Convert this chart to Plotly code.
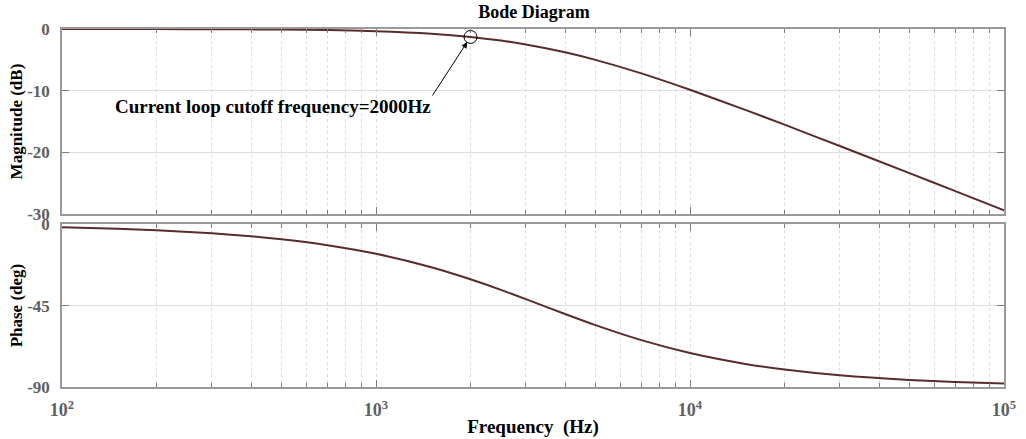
import plotly.graph_objects as go
from plotly.subplots import make_subplots
import math

# Frequency samples (Hz) and values
freq_hz = [100, 150, 200, 300, 400, 500, 700, 1000, 1500, 2000, 2500, 3000,
           4000, 5000, 7000, 10000, 15000, 20000, 30000, 50000, 70000, 100000]
magnitude_db = [-0.004, -0.009, -0.015, -0.034, -0.060, -0.093, -0.180, -0.360,
                -0.772, -1.29, -1.88, -2.50, -3.77, -5.00, -7.19, -9.85,
                -13.11, -15.51, -18.97, -23.37, -26.28, -29.38]
phase_deg = [-1.68, -2.53, -3.37, -5.04, -6.71, -8.37, -11.63, -16.39, -23.81,
             -30.47, -36.33, -41.42, -49.64, -55.78, -64.09, -71.22, -77.23,
             -80.35, -83.53, -86.11, -87.22, -88.05]

cutoff_hz = 2000
cutoff_mag = magnitude_db[freq_hz.index(cutoff_hz)]

x_tickvals = [100, 1000, 10000, 100000]
x_ticktext = ["10<sup>2</sup>", "10<sup>3</sup>", "10<sup>4</sup>", "10<sup>5</sup>"]
mag_ticks = [0, -10, -20, -30]
phase_ticks = [0, -45, -90]

LINE = "#5a2b2b"
AX = "#9a9a9a"
TICKC = "#7a7a7a"
LBL = "#606060"
GRID = "#dcdcdc"
FONT = "Liberation Serif"

fig = make_subplots(rows=2, cols=1, shared_xaxes=True)

fig.add_trace(go.Scatter(x=freq_hz, y=magnitude_db, mode="lines",
                         line=dict(color=LINE, width=2, shape="spline", smoothing=0.6),
                         showlegend=False, hoverinfo="skip"), row=1, col=1)
fig.add_trace(go.Scatter(x=[cutoff_hz], y=[cutoff_mag], mode="markers",
                         marker=dict(symbol="circle-open", size=13,
                                     color="#000000", line=dict(width=1, color="#000000")),
                         showlegend=False, hoverinfo="skip"), row=1, col=1)
fig.add_trace(go.Scatter(x=freq_hz, y=phase_deg, mode="lines",
                         line=dict(color=LINE, width=2, shape="spline", smoothing=0.6),
                         showlegend=False, hoverinfo="skip"), row=2, col=1)

xcommon = dict(type="log", range=[2, 5], showline=True, linecolor=AX, linewidth=1.5,
               mirror="ticks", ticks="inside", ticklen=7, tickwidth=1, tickcolor=TICKC,
               showgrid=True, gridcolor=GRID, griddash="dot", gridwidth=1,
               tickvals=x_tickvals, ticktext=[f"<b>{t}</b>" for t in x_ticktext],
               zeroline=False, automargin=False, ticklabelstandoff=6,
               minor=dict(dtick="D1", ticks="inside", ticklen=4, tickcolor=TICKC,
                          showgrid=True, gridcolor=GRID, griddash="dot", gridwidth=1),
               tickfont=dict(family=FONT, size=18, color=LBL))

fig.update_xaxes(**xcommon)
fig.update_xaxes(showticklabels=False, row=1, col=1)
fig.update_xaxes(title=dict(text="<b>Frequency\u00a0 (Hz)</b>", standoff=0,
                            font=dict(family=FONT, size=19, color="#000000")),
                 row=2, col=1)

ycommon = dict(showline=True, linecolor=AX, linewidth=1.5, mirror="ticks",
               ticks="inside", ticklen=7, tickwidth=1, tickcolor=TICKC,
               showgrid=True, gridcolor=GRID, gridwidth=1, zeroline=False,
               automargin=False,
               tickfont=dict(family=FONT, size=17, color=LBL), ticklabelstandoff=7)

fig.update_yaxes(**ycommon)
fig.update_yaxes(range=[-30, 0], tickvals=mag_ticks, ticktext=[f"<b>{v}</b>" for v in mag_ticks],
                 domain=[0.483, 1.0],
                 title=dict(text="<b>Magnitude (dB)</b>", standoff=0,
                            font=dict(family=FONT, size=17, color="#000000")),
                 row=1, col=1)
fig.update_yaxes(range=[-90, 0], tickvals=phase_ticks, ticktext=[f"<b>{v}</b>" for v in phase_ticks],
                 domain=[0.0, 0.455],
                 title=dict(text="<b>Phase (deg)</b>", standoff=0,
                            font=dict(family=FONT, size=17, color="#000000")),
                 row=2, col=1)

# arrow pointing to the cutoff circle
fig.add_annotation(x=math.log10(cutoff_hz), y=cutoff_mag, xref="x", yref="y",
                   text="", showarrow=True, ax=-39, ay=60, standoff=6,
                   arrowhead=2, arrowsize=1.2, arrowwidth=1, arrowcolor="#000000")
fig.add_annotation(x=math.log10(470), y=-12.6, xref="x", yref="y",
                   text="<b>Current loop cutoff frequency=2000Hz</b>", showarrow=False,
                   xanchor="center", yanchor="middle",
                   font=dict(family=FONT, size=19, color="#000000"))

fig.update_layout(
    width=1026, height=439,
    margin=dict(l=62, r=22, t=29, b=52),
    paper_bgcolor="white", plot_bgcolor="white",
    title=dict(text="<b>Bode Diagram</b>", x=0.5205, xanchor="center",
               y=1 - 12 / 439, yanchor="middle",
               font=dict(family=FONT, size=18, color="#000000")),
)

fig.write_html("out.html", config={"displayModeBar": False},
               post_script="document.body.style.margin='0';")
